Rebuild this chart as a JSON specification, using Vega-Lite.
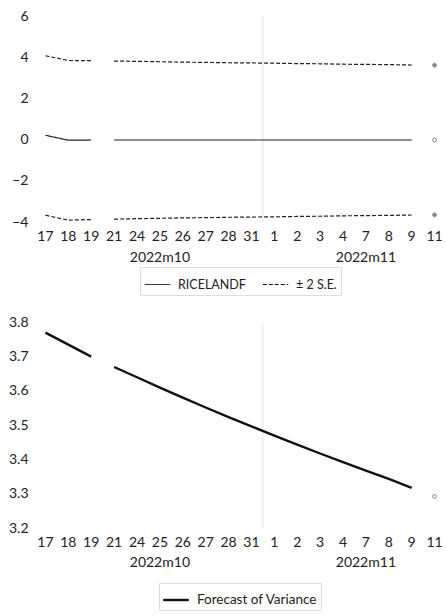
{
  "$schema": "https://vega.github.io/schema/vega-lite/v6.json",
  "padding": {"left": 8, "top": 9, "right": 0, "bottom": 2},
  "spacing": 19,
  "resolve": {
    "scale": {"color": "independent", "strokeDash": "independent"},
    "legend": {"color": "independent", "strokeDash": "independent"}
  },
  "datasets": {
    "fc": [
      {"d": "17", "seg": "A", "RICELANDF": 0.21, "upper": 4.07, "lower": -3.67, "variance": 3.769},
      {"d": "18", "seg": "A", "RICELANDF": -0.03, "upper": 3.84, "lower": -3.91, "variance": 3.734},
      {"d": "19", "seg": "A", "RICELANDF": -0.02, "upper": 3.83, "lower": -3.88, "variance": 3.699},
      {"d": "21", "seg": "B", "RICELANDF": -0.02, "upper": 3.81, "lower": -3.86, "variance": 3.669},
      {"d": "24", "seg": "B", "RICELANDF": -0.02, "upper": 3.80, "lower": -3.84, "variance": 3.639},
      {"d": "25", "seg": "B", "RICELANDF": -0.02, "upper": 3.78, "lower": -3.82, "variance": 3.609},
      {"d": "26", "seg": "B", "RICELANDF": -0.02, "upper": 3.76, "lower": -3.80, "variance": 3.580},
      {"d": "27", "seg": "B", "RICELANDF": -0.02, "upper": 3.75, "lower": -3.79, "variance": 3.551},
      {"d": "28", "seg": "B", "RICELANDF": -0.02, "upper": 3.73, "lower": -3.77, "variance": 3.523},
      {"d": "31", "seg": "B", "RICELANDF": -0.02, "upper": 3.72, "lower": -3.76, "variance": 3.496},
      {"d": "1", "seg": "B", "RICELANDF": -0.02, "upper": 3.71, "lower": -3.75, "variance": 3.469},
      {"d": "2", "seg": "B", "RICELANDF": -0.02, "upper": 3.69, "lower": -3.73, "variance": 3.443},
      {"d": "3", "seg": "B", "RICELANDF": -0.02, "upper": 3.68, "lower": -3.72, "variance": 3.417},
      {"d": "4", "seg": "B", "RICELANDF": -0.02, "upper": 3.66, "lower": -3.70, "variance": 3.392},
      {"d": "7", "seg": "B", "RICELANDF": -0.02, "upper": 3.65, "lower": -3.69, "variance": 3.367},
      {"d": "8", "seg": "B", "RICELANDF": -0.02, "upper": 3.64, "lower": -3.68, "variance": 3.343},
      {"d": "9", "seg": "B", "RICELANDF": -0.02, "upper": 3.62, "lower": -3.66, "variance": 3.317},
      {"d": "11", "seg": "C", "RICELANDF": -0.02, "upper": 3.61, "lower": -3.65, "variance": 3.292}
    ],
    "boundary": [{"d": "1"}]
  },
  "vconcat": [
    {
      "width": 412,
      "height": 206,
      "layer": [
        {
          "data": {"name": "boundary"},
          "mark": {"type": "rule", "color": "#e4e4e4", "strokeWidth": 1},
          "encoding": {
            "x": {"field": "d", "type": "ordinal", "bandPosition": 0}
          }
        },
        {
          "data": {"name": "fc"},
          "mark": {"type": "rule", "color": "#c8c8c8", "strokeWidth": 1},
          "encoding": {"y": {"datum": 0, "type": "quantitative"}}
        },
        {
          "data": {"name": "fc"},
          "transform": [
            {"filter": "datum.seg != 'C'"},
            {"fold": ["RICELANDF", "upper", "lower"], "as": ["series", "value"]}
          ],
          "mark": {"type": "line", "color": "#222", "strokeWidth": 1.2},
          "encoding": {
            "x": {"field": "d", "type": "ordinal"},
            "y": {"field": "value", "type": "quantitative"},
            "detail": [{"field": "seg"}, {"field": "series"}],
            "strokeDash": {
              "field": "series",
              "type": "nominal",
              "scale": {"domain": ["RICELANDF", "upper", "lower"], "range": [[1, 0], [4, 2], [4, 2]]},
              "legend": {
                "values": ["RICELANDF", "upper"],
                "labelExpr": "datum.value == 'upper' ? '± 2 S.E.' : datum.value",
                "symbolStrokeWidth": 1,
                "labelFontSize": 12.5,
                "columnPadding": 14,
                "offset": 3,
                "padding": 4
              }
            }
          }
        },
        {
          "data": {"name": "fc"},
          "transform": [
            {"filter": "datum.seg == 'C'"},
            {"fold": ["RICELANDF", "upper", "lower"], "as": ["series", "value"]}
          ],
          "mark": {"type": "point", "size": 14, "stroke": "#888", "strokeWidth": 1, "opacity": 1},
          "encoding": {
            "x": {"field": "d", "type": "ordinal"},
            "y": {"field": "value", "type": "quantitative"},
            "fill": {"condition": {"test": "datum.series == 'RICELANDF'", "value": "white"}, "value": "#888"}
          }
        }
      ],
      "encoding": {
        "x": {
          "field": "d",
          "type": "ordinal",
          "scale": {"type": "band", "domain": ["17","18","19","21","24","25","26","27","28","31","1","2","3","4","7","8","9","11"], "paddingInner": 0, "paddingOuter": 0},
          "axis": {
            "title": null,
            "labelAngle": 0,
            "labelExpr": "datum.value == '25' ? ['25', '2022m10'] : datum.value == '7' ? ['7', '2022m11'] : datum.value",
            "labelLineHeight": 21,
            "labelPadding": 7
          }
        },
        "y": {
          "type": "quantitative",
          "scale": {"domain": [-4, 6], "nice": false, "zero": false},
          "axis": {"title": null, "values": [-4, -2, 0, 2, 4, 6]}
        }
      }
    },
    {
      "width": 412,
      "height": 206,
      "layer": [
        {
          "data": {"name": "boundary"},
          "mark": {"type": "rule", "color": "#e4e4e4", "strokeWidth": 1},
          "encoding": {
            "x": {"field": "d", "type": "ordinal", "bandPosition": 0}
          }
        },
        {
          "data": {"name": "fc"},
          "transform": [{"filter": "datum.seg != 'C'"}],
          "mark": {"type": "line", "strokeWidth": 2.4},
          "encoding": {
            "x": {"field": "d", "type": "ordinal"},
            "y": {"field": "variance", "type": "quantitative"},
            "detail": {"field": "seg"},
            "color": {
              "datum": "Forecast of Variance",
              "type": "nominal",
              "scale": {"range": ["#111"]},
              "legend": {"symbolStrokeWidth": 2.4, "offset": 14, "padding": 3}
            }
          }
        },
        {
          "data": {"name": "fc"},
          "transform": [{"filter": "datum.seg == 'C'"}],
          "mark": {"type": "point", "size": 14, "stroke": "#888", "fill": "white", "strokeWidth": 1, "opacity": 1},
          "encoding": {
            "x": {"field": "d", "type": "ordinal"},
            "y": {"field": "variance", "type": "quantitative"}
          }
        }
      ],
      "encoding": {
        "x": {
          "field": "d",
          "type": "ordinal",
          "scale": {"type": "band", "domain": ["17","18","19","21","24","25","26","27","28","31","1","2","3","4","7","8","9","11"], "paddingInner": 0, "paddingOuter": 0},
          "axis": {
            "title": null,
            "labelAngle": 0,
            "labelExpr": "datum.value == '25' ? ['25', '2022m10'] : datum.value == '7' ? ['7', '2022m11'] : datum.value",
            "labelLineHeight": 20,
            "labelPadding": 7
          }
        },
        "y": {
          "type": "quantitative",
          "scale": {"domain": [3.2, 3.8], "nice": false, "zero": false},
          "axis": {"title": null, "values": [3.2, 3.3, 3.4, 3.5, 3.6, 3.7, 3.8], "format": ".1f"}
        }
      }
    }
  ],
  "config": {
    "font": "Lato",
    "view": {"stroke": null},
    "axis": {
      "grid": false,
      "ticks": false,
      "domain": false,
      "labelFont": "Lato",
      "labelFontSize": 14,
      "labelColor": "#222",
      "labelPadding": 6,
      "labelOverlap": false,
      "labelBound": false,
      "labelFlush": false
    },
    "legend": {
      "orient": "bottom",
      "direction": "horizontal",
      "title": null,
      "labelFont": "Lato",
      "labelFontSize": 13.5,
      "labelColor": "#222",
      "symbolType": "stroke",
      "symbolSize": 650,
      "symbolStrokeColor": "#111",
      "strokeColor": "#dddddd",
      "columnPadding": 18,
      "labelOffset": 7,
      "layout": {"bottom": {"anchor": "middle"}}
    }
  }
}
